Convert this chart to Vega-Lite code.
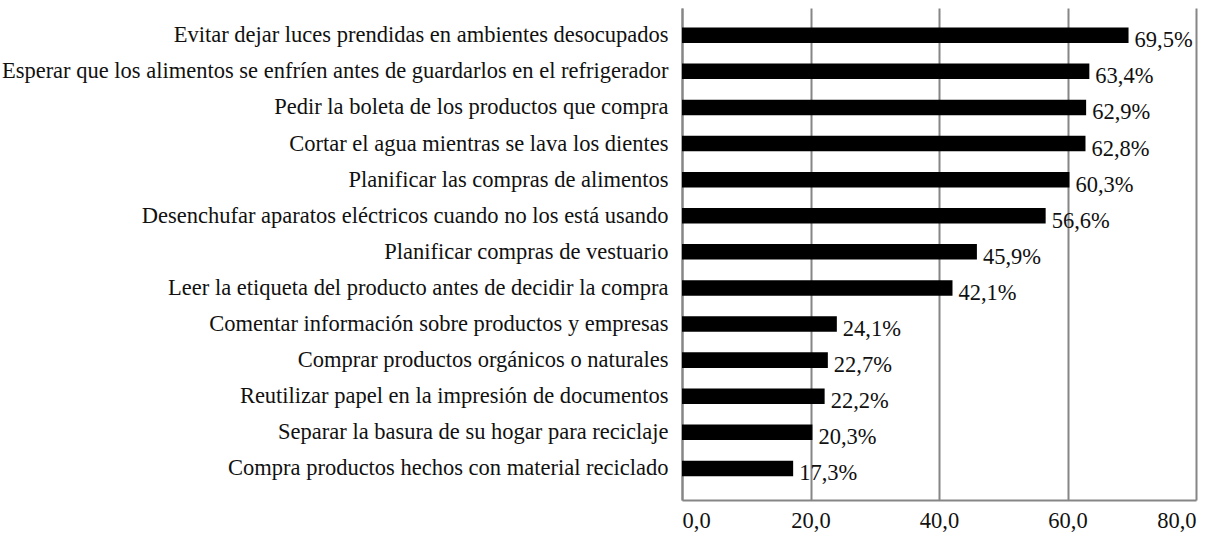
{
  "$schema": "https://vega.github.io/schema/vega-lite/v6.json",
  "autosize": {"type": "none"},
  "width": 514,
  "height": 492,
  "padding": {"left": 682, "top": 8, "right": 30, "bottom": 36},
  "background": "white",
  "config": {
    "view": {"stroke": null},
    "font": "Liberation Serif"
  },
  "data": {
    "values": [
      {"cat": "Evitar dejar luces prendidas en ambientes desocupados", "v": 69.5},
      {"cat": "Esperar que los alimentos se enfríen antes de guardarlos en el refrigerador", "v": 63.4},
      {"cat": "Pedir la boleta de los productos que compra", "v": 62.9},
      {"cat": "Cortar el agua mientras se lava los dientes", "v": 62.8},
      {"cat": "Planificar las compras de alimentos", "v": 60.3},
      {"cat": "Desenchufar aparatos eléctricos cuando no los está usando", "v": 56.6},
      {"cat": "Planificar compras de vestuario", "v": 45.9},
      {"cat": "Leer la etiqueta del producto antes de decidir la compra", "v": 42.1},
      {"cat": "Comentar información sobre productos y empresas", "v": 24.1},
      {"cat": "Comprar productos orgánicos o naturales", "v": 22.7},
      {"cat": "Reutilizar papel en la impresión de documentos", "v": 22.2},
      {"cat": "Separar la basura de su hogar para reciclaje", "v": 20.3},
      {"cat": "Compra productos hechos con material reciclado", "v": 17.3}
    ]
  },
  "transform": [
    {"calculate": "replace(format(datum.v, '.1f'), '.', ',') + '%'", "as": "label"}
  ],
  "encoding": {
    "y": {
      "field": "cat",
      "type": "nominal",
      "sort": null,
      "scale": {"paddingInner": 0.57, "paddingOuter": 0.6, "align": 0.45},
      "axis": {
        "title": null,
        "ticks": false,
        "domain": true,
        "domainColor": "#868686",
        "domainWidth": 2,
        "labelFont": "Liberation Serif",
        "labelFontSize": 22.5,
        "labelColor": "#111111",
        "labelPadding": 14,
        "labelLimit": 700
      }
    },
    "x": {
      "field": "v",
      "type": "quantitative",
      "scale": {"domain": [0, 80], "nice": false},
      "axis": {
        "title": null,
        "values": [0, 20, 40, 60, 80],
        "ticks": false,
        "grid": true,
        "gridColor": "#868686",
        "gridWidth": 2,
        "domain": true,
        "domainColor": "#868686",
        "domainWidth": 2,
        "labelFont": "Liberation Serif",
        "labelFontSize": 22.5,
        "labelColor": "#111111",
        "labelPadding": 9,
        "labelExpr": "replace(format(datum.value, '.1f'), '.', ',')"
      }
    }
  },
  "layer": [
    {"mark": {"type": "bar", "color": "#000000"}},
    {
      "mark": {"type": "text", "align": "left", "baseline": "middle", "dx": 6, "dy": 5, "font": "Liberation Serif", "fontSize": 22.5, "color": "#111111"},
      "encoding": {"text": {"field": "label"}}
    }
  ]
}
